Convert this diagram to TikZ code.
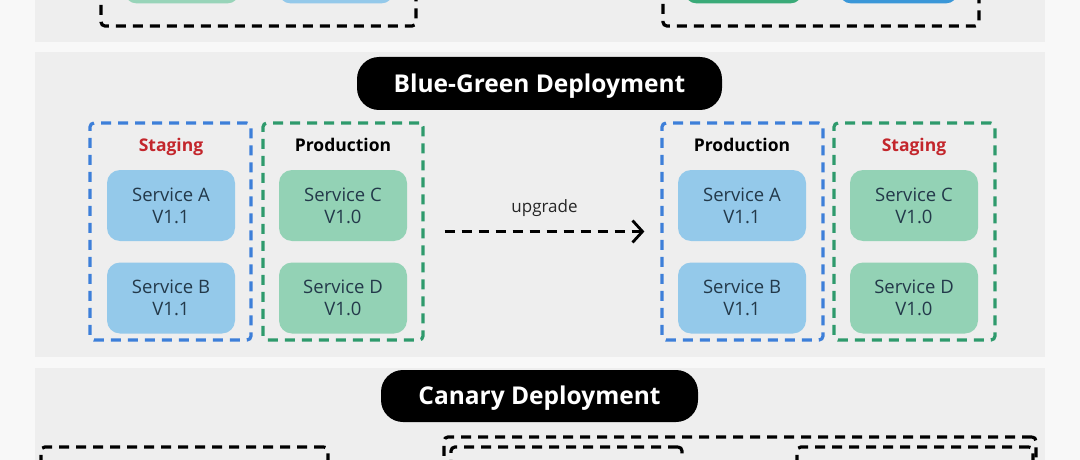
\documentclass[tikz,border=0pt]{standalone}
\usepackage{fontspec}
\setmainfont{Open Sans}
\usetikzlibrary{arrows.meta}
\definecolor{outerbg}{HTML}{F8F8F8}
\definecolor{panelbg}{HTML}{EEEEEE}
\definecolor{grpblue}{HTML}{3D7FD9}
\definecolor{grpgreen}{HTML}{2E9A6C}
\definecolor{stagred}{HTML}{C3262C}
\definecolor{svcblue}{HTML}{94C9EA}
\definecolor{svcgreen}{HTML}{93D2B5}
\definecolor{svctext}{HTML}{23394A}
\definecolor{darkgreen}{HTML}{3AAA78}
\definecolor{darkblue}{HTML}{3A97D8}
\tikzset{
  panel/.style={fill=panelbg, draw=none},
  pill/.style={fill=black, text=white, rounded corners=22pt, font=\bfseries\fontsize{24.5}{28}\selectfont, inner sep=0pt, text height=17.6pt, text depth=0pt},
  grp/.style={draw=#1, line width=3.2pt, dash pattern=on 10pt off 7pt, rounded corners=4pt, inner sep=0pt, fill=none},
  svc/.style={fill=#1, rounded corners=13pt, minimum width=128pt, minimum height=71pt, inner sep=0pt, align=center, text=svctext, font=\fontsize{18.5}{22}\selectfont},
  grplabel/.style={font=\bfseries\fontsize{17.5}{20}\selectfont, text=#1, inner sep=0pt, text height=12.6pt, text depth=0pt},
  flowlabel/.style={font=\fontsize{17}{20}\selectfont, text=black!85, inner sep=0pt, text height=9.3pt, text depth=0pt},
  flow/.style={line width=2.8pt, dash pattern=on 10pt off 7pt, -{Straight Barb[length=10pt,width=22pt,line width=2.8pt]}}
}
\begin{document}
\begin{tikzpicture}[x=1pt,y=-1pt]
\useasboundingbox (0,0) rectangle (1080,460);
\clip (0,0) rectangle (1080,460);
\fill[outerbg] (0,0) rectangle (1080,460);
% panels
\fill[panel] (35,-100) rectangle (1045,42);
\fill[panel] (35,52) rectangle (1045,357);
\fill[panel] (35,368) rectangle (1045,560);

% top partial section
\node[grp=black, minimum width=315pt, minimum height=120pt] (tl) at (258.5,-34) {};
\node[grp=black, minimum width=316pt, minimum height=120pt] (tr) at (821,-34) {};
\node[svc=svcgreen!95!white, minimum width=116pt] (tla) at (182,-32) {};
\node[svc=svcblue, minimum width=116pt] (tlb) at (336,-32) {};
\node[svc=darkgreen, minimum width=119pt] (tra) at (743.5,-32) {};
\node[svc=darkblue, minimum width=120pt] (trb) at (898.5,-32) {};

% Blue-Green section
\node[pill, minimum width=365pt, minimum height=53pt] (bgtitle) at (539.5,83.5) {Blue-Green Deployment};

\node[grp=grpblue, minimum width=161pt, minimum height=217pt] (lstag) at (170.5,231.5) {};
\node[grp=grpgreen, minimum width=160pt, minimum height=217pt] (lprod) at (343,231.5) {};
\node[grp=grpblue, minimum width=161pt, minimum height=217pt] (rprod) at (742.5,231.5) {};
\node[grp=grpgreen, minimum width=161pt, minimum height=217pt] (rstag) at (914.5,231.5) {};

\node[grplabel=stagred] (lstaglbl) at (171,145.5) {Staging};
\node[grplabel=black] (lprodlbl) at (343,145.5) {Production};
\node[grplabel=black] (rprodlbl) at (742,145.5) {Production};
\node[grplabel=stagred] (rstaglbl) at (914,145.5) {Staging};

\node[svc=svcblue] (la) at (171,205.5) {Service A\\V1.1};
\node[svc=svcblue] (lb) at (171,298) {Service B\\V1.1};
\node[svc=svcgreen] (lc) at (343,205.5) {Service C\\V1.0};
\node[svc=svcgreen] (ld) at (343,298) {Service D\\V1.0};
\node[svc=svcblue] (ra) at (742,205.5) {Service A\\V1.1};
\node[svc=svcblue] (rb) at (742,298) {Service B\\V1.1};
\node[svc=svcgreen] (rc) at (914,205.5) {Service C\\V1.0};
\node[svc=svcgreen] (rd) at (914,298) {Service D\\V1.0};

\draw[flow] ([xshift=20pt]lprod.east) -- ([xshift=-16pt]rprod.west) node[flowlabel, midway, above=18pt] (uplbl) {upgrade};

% Canary section
\node[pill, minimum width=317pt, minimum height=52pt] (cantitle) at (539.5,396) {Canary Deployment};
\node[grp=black, minimum width=287pt, minimum height=100pt] (cl) at (184.5,497) {};
\node[grp=black, minimum width=592pt, minimum height=120pt] (cbig) at (740,497) {};
\node[grp=black, minimum width=231pt, minimum height=100pt] (cbl) at (566.5,497) {};
\node[grp=black, minimum width=236pt, minimum height=100pt] (cbr) at (915,497) {};
\end{tikzpicture}
\end{document}
